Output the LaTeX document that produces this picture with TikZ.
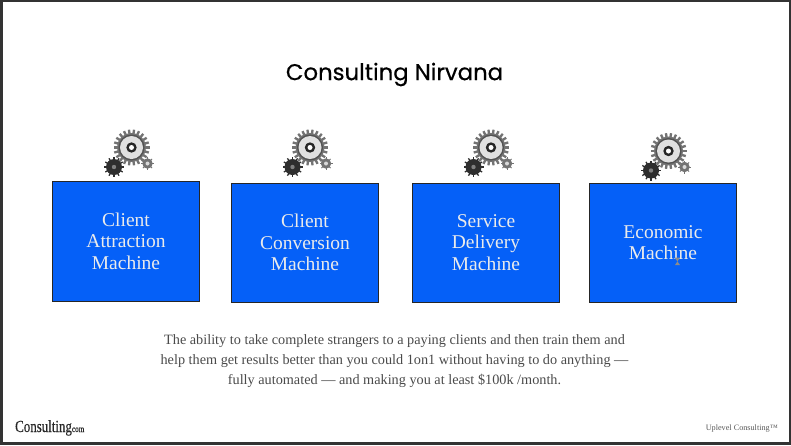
\documentclass[tikz,border=0pt]{standalone}
\usepackage{fontspec}
\setmainfont{Liberation Serif}
\newfontfamily\titlefont[FakeBold=0.5]{Poppins}
\newfontfamily\logofont[FakeStretch=0.76,FakeBold=0.3]{Liberation Serif}
\usepackage{tikz}
\usetikzlibrary{positioning}
\definecolor{machine}{HTML}{0560F8}
\definecolor{caption}{HTML}{4A4A4A}
\tikzset{
  machinebox/.style={draw=black!85,line width=0.8pt,fill=machine,text=white!92!black,
    minimum width=147.5pt,minimum height=119pt,align=center,inner sep=0pt,
    font=\fontsize{19.5}{21.5}\selectfont},
  captiontext/.style={text=caption,align=center,inner sep=0pt,
    font=\fontsize{14.25}{20.3}\selectfont},
}
\newcommand{\gearwheel}[5]{%
  \fill[#5] (#1,#2) circle ({#3*0.8});
  \foreach \k in {1,...,#4}
    \draw[#5,line width={#3*0.13pt}] (#1,#2) ++({360*\k/#4}:{#3*0.7}) -- ++({360*\k/#4}:{#3*0.3});
}
\newcommand{\gearset}[2]{%
  \gearwheel{#1}{#2}{18}{22}{black!55}
  \fill[black!68] (#1,#2) circle (13);
  \fill[black!12] (#1,#2) circle (11.5);
  \fill[black!85] (#1,#2) circle (5.2);
  \fill[white] (#1,#2) circle (2.5);
  \gearwheel{#1-17.5}{#2+19.5}{10}{12}{black!82}
  \fill[black!50] (#1-17.5,#2+19.5) circle (2.2);
  \gearwheel{#1+16}{#2+16}{6.5}{8}{black!55}
  \fill[black!15] (#1+16,#2+16) circle (2);
}
\begin{document}
\begin{tikzpicture}[x=1pt,y=-1pt]
  \useasboundingbox (0,0) rectangle (791,445);
  \fill[black!80] (0,0) rectangle (791,445);
  \fill[white] (3,2) rectangle (789,442);
  \node[font=\titlefont\fontsize{22.8}{28}\selectfont] (title) at (394.5,74.5) {Consulting Nirvana};
  % gears sit on top of each box
  \gearset{131.5}{147.5}
  \gearset{310}{147.5}
  \gearset{491}{147.5}
  \gearset{668.5}{151}
  \node[machinebox,minimum height=120pt] (attraction) at (126,241) {Client\\Attraction\\Machine};
  \node[machinebox] (conversion) at (305,242.5) {Client\\Conversion\\Machine};
  \node[machinebox] (delivery) at (486,242.5) {Service\\Delivery\\Machine};
  \node[machinebox] (economic) at (663,242.5) {Economic\\Machine};
  \fill[black!45] (674.5,257.5) -- (680,257.5) -- (675,265) -- (680,265) -- cycle;
  \node[captiontext] (ability) at (394.5,361) {The ability to take complete strangers to a paying clients and then train them and\\
    help them get results better than you could 1on1 without having to do anything ---\\
    fully automated --- and making you at least \$100k /month.};
  \node[anchor=base west,inner sep=0pt,text=black!85,font=\logofont\fontsize{17}{17}\selectfont] (logo) at (15,432)
    {Consulting{\fontsize{9.5}{9}\selectfont com}};
  \node[anchor=base east,inner sep=0pt,text=black!65,font=\fontsize{8.2}{8}\selectfont] (uplevel) at (778,430) {Uplevel Consulting™};
\end{tikzpicture}
\end{document}
